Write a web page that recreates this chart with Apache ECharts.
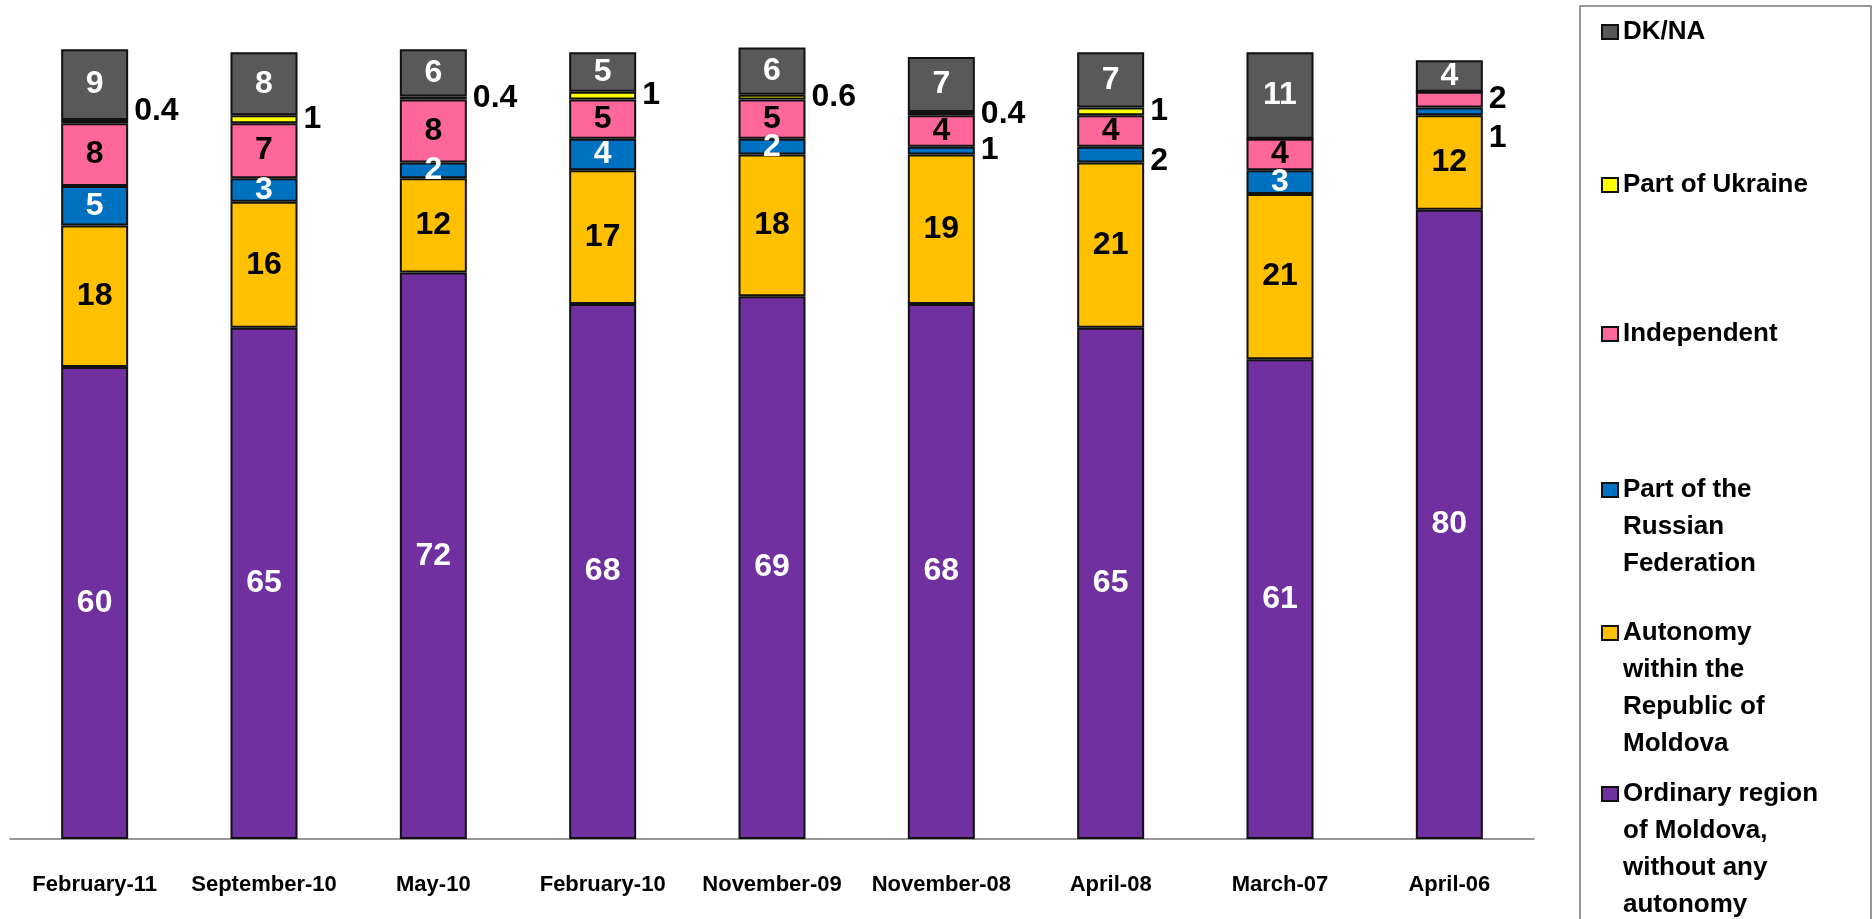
<!DOCTYPE html>
<html>
<head>
<meta charset="utf-8">
<script src="https://cdn.jsdelivr.net/npm/echarts@6/dist/echarts.min.js"></script>
<style>
  html, body { margin: 0; padding: 0; background: #fff; }
  #chart { width: 1873px; height: 919px; }
</style>
</head>
<body>
<div id="chart"></div>
<script>
var categories = ['February-11', 'September-10', 'May-10', 'February-10', 'November-09',
                  'November-08', 'April-08', 'March-07', 'April-06'];

// stacked from the bottom up
var ordinary    = [60, 65, 72, 68, 69, 68, 65, 61, 80];
var autonomy    = [18, 16, 12, 17, 18, 19, 21, 21, 12];
var russia      = [5, 3, 2, 4, 2, 1, 2, 3, 1];
var independent = [8, 7, 8, 5, 5, 4, 4, 4, 2];
var ukraine     = [0.4, 1, 0.4, 1, 0.6, 0.4, 1, 0, 0];
var dkna        = [9, 8, 6, 5, 6, 7, 7, 11, 4];

var seriesNames = ['Ordinary region of Moldova, without any autonomy',
                   'Autonomy within the Republic of Moldova',
                   'Part of the Russian Federation',
                   'Independent',
                   'Part of Ukraine',
                   'DK/NA'];

// how the legend wraps each name
var legendLines = {
  'DK/NA': ['DK/NA'],
  'Part of Ukraine': ['Part of Ukraine'],
  'Independent': ['Independent'],
  'Part of the Russian Federation': ['Part of the', 'Russian', 'Federation'],
  'Autonomy within the Republic of Moldova': ['Autonomy', 'within the', 'Republic of', 'Moldova'],
  'Ordinary region of Moldova, without any autonomy': ['Ordinary region', 'of Moldova,', 'without any', 'autonomy']
};

// labels drawn to the right of the bar (series index, category index, vertical nudge)
var outsideLabels = [
  [2, 5, 0], [2, 6, 7], [2, 8, 27],
  [3, 8, 0],
  [4, 0, -10]
];

var colors = ['#7030A0', '#FFC000', '#0070C0', '#FF6699', '#FFFF00', '#595959'];
var labelColors = ['#fff', '#000', '#fff', '#000', '#000', '#fff'];
var values = [ordinary, autonomy, russia, independent, ukraine, dkna];

var labelFont = { fontSize: 32, fontWeight: 'bold', fontFamily: 'Liberation Sans, Arial, sans-serif' };

function findOutside(s, i) {
  for (var k = 0; k < outsideLabels.length; k++) {
    if (outsideLabels[k][0] === s && outsideLabels[k][1] === i) return outsideLabels[k];
  }
  return null;
}

var series = values.map(function (vals, s) {
  var allOutside = (s === 4);
  return {
    name: seriesNames[s],
    type: 'bar',
    stack: 'total',
    barWidth: 67,
    data: vals.map(function (v, i) {
      var o = findOutside(s, i);
      var item = { value: v };
      if (o || allOutside) {
        item.label = {
          position: 'right', distance: 6, color: '#000',
          offset: [0, o ? o[2] : 0]
        };
      }
      return item;
    }),
    itemStyle: { color: colors[s], borderColor: '#111', borderWidth: 2 },
    label: Object.assign({
      show: true,
      position: 'inside',
      color: labelColors[s],
      formatter: function (p) { return p.value ? String(p.value) : ''; }
    }, labelFont)
  };
});

// legend entries, top to bottom: [name, centre of first line]
// the marker sits on the first line, so blank lines are put above to keep the block centred on it
var lh = 37;
var legendLayout = [
  ['DK/NA', 32],
  ['Part of Ukraine', 185],
  ['Independent', 334],
  ['Part of the Russian Federation', 490],
  ['Autonomy within the Republic of Moldova', 633],
  ['Ordinary region of Moldova, without any autonomy', 794]
];

var legends = legendLayout.map(function (l) {
  var lines = legendLines[l[0]];
  var n = lines.length;
  var pad = [];
  for (var k = 1; k < n; k++) pad.push(' ');
  return {
    data: [l[0]],
    orient: 'vertical',
    left: 1601,
    top: l[1] - lh / 2 - (n - 1) * lh,
    padding: 0,
    itemWidth: 16,
    itemHeight: 14,
    icon: 'rect',
    formatter: function () { return pad.concat(lines).join('\n'); },
    textStyle: {
      fontSize: 26, fontWeight: 'bold', color: '#000',
      fontFamily: 'Liberation Sans, Arial, sans-serif',
      lineHeight: lh
    }
  };
});

var chart = echarts.init(document.getElementById('chart'));
chart.setOption({
  backgroundColor: '#fff',
  animation: false,
  grid: { left: 10, right: 339, top: 13, bottom: 80 },
  xAxis: {
    type: 'category',
    data: categories,
    axisLine: { lineStyle: { color: '#777', width: 1.5 } },
    axisTick: { length: 9, lineStyle: { color: '#777', width: 1.5 } },
    axisLabel: {
      margin: 35, color: '#000', fontSize: 22, fontWeight: 'bold',
      fontFamily: 'Liberation Sans, Arial, sans-serif', interval: 0
    }
  },
  yAxis: { type: 'value', min: 0, max: 105, show: false },
  legend: legends,
  graphic: [{
    type: 'rect',
    shape: { x: 1580, y: 6, width: 291, height: 930 },
    style: { fill: 'none', stroke: '#777', lineWidth: 1.5 },
    silent: true
  }],
  series: series
});
</script>
</body>
</html>
